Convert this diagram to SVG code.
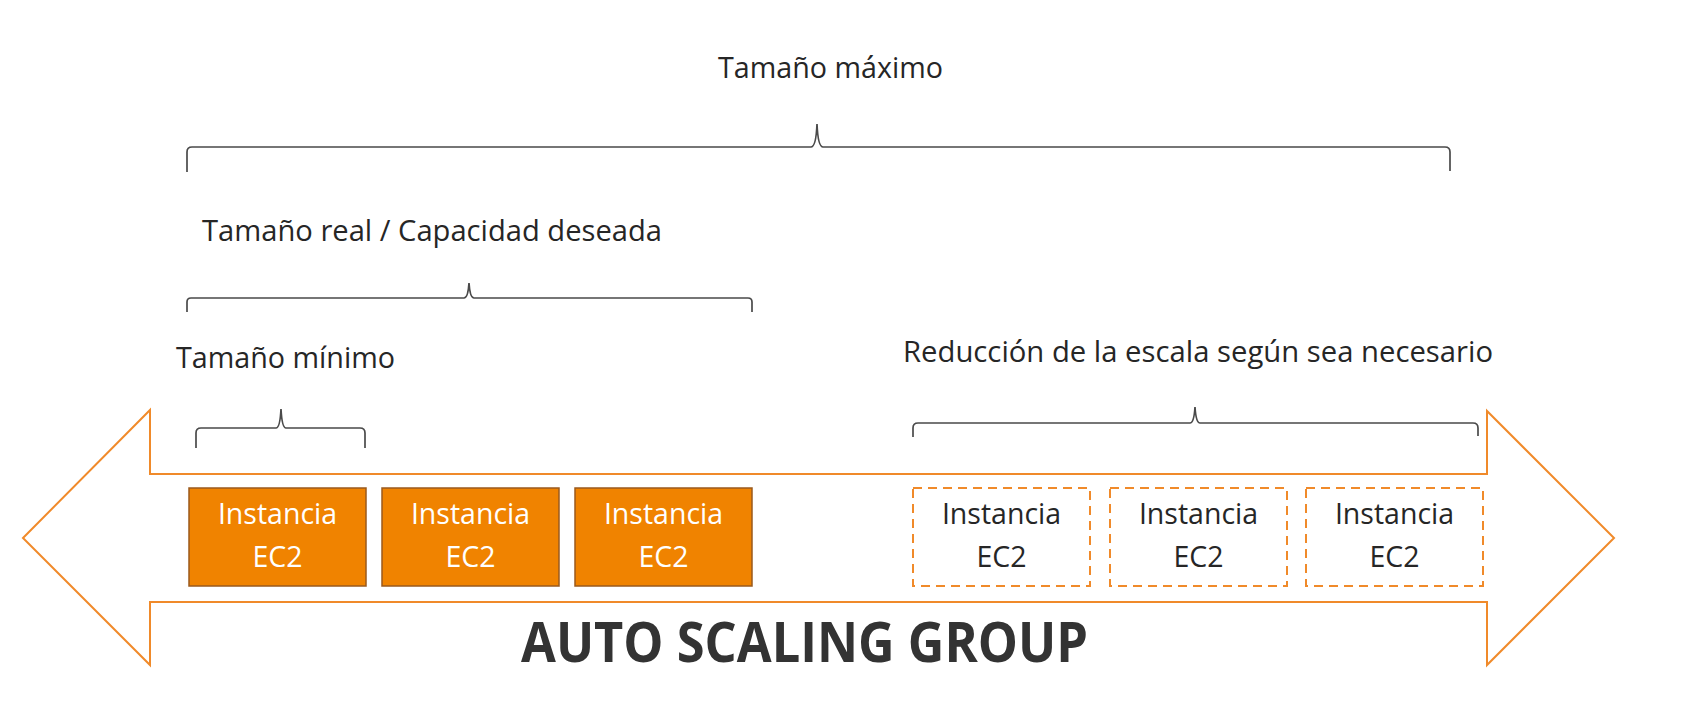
<svg xmlns="http://www.w3.org/2000/svg" width="1693" height="721" viewBox="0 0 1693 721">
<style>
.lbl{font-family:"Open Sans","Noto Sans",sans-serif;font-size:29px;fill:#262626}
.brace{fill:none;stroke:#4a4a4a;stroke-width:1.7}
.inst{stroke:#9a5a1c;stroke-width:1.5;fill:#F08300}
.dash{fill:#fff;stroke:#F08A2A;stroke-width:2;stroke-dasharray:9 6}
.itxt{font-family:"Open Sans","Noto Sans",sans-serif;font-size:28.5px;text-anchor:middle}
.w{fill:#fff}.d{fill:#262626}
.title{font-family:"Open Sans","Noto Sans",sans-serif;font-weight:bold;font-size:55px;fill:#333}
</style>
<rect width="1693" height="721" fill="#fff"/>
<g id="asg-arrow">
<path d="M23,538 L150,410 L150,474 L1487,474 L1487,411 L1614,538 L1487,665 L1487,602 L150,602 L150,665 Z" fill="#fff" stroke="#F08A2A" stroke-width="2"/>
<text class="title" x="521" y="662" textLength="567" lengthAdjust="spacingAndGlyphs">AUTO SCALING GROUP</text>
</g>
<g id="connectors">
<path class="brace" d="M187,172 L187,152 Q187,147 192,147 L811,147 Q816,147 817,124 Q818,147 823,147 L1445,147 Q1450,147 1450,152 L1450,171"/>
<path class="brace" d="M187,312 L187,302 Q187,298 191,298 L464,298 Q468,298 469,283 Q470,298 474,298 L748,298 Q752,298 752,302 L752,312"/>
<path class="brace" d="M196,448 L196,433 Q196,428 201,428 L276,428 Q280,428 281,409 Q282,428 286,428 L360,428 Q365,428 365,433 L365,448"/>
<path class="brace" d="M913,437 L913,428 Q913,423 918,423 L1190,423 Q1194,423 1195,407 Q1196,423 1200,423 L1473,423 Q1478,423 1478,428 L1478,436"/>
</g>
<g id="label-max"><text class="lbl" x="718" y="78" textLength="225" lengthAdjust="spacingAndGlyphs">Tamaño máximo</text></g>
<g id="label-desired"><text class="lbl" x="202" y="241" textLength="460" lengthAdjust="spacingAndGlyphs">Tamaño real / Capacidad deseada</text></g>
<g id="label-min"><text class="lbl" x="176" y="368" textLength="219" lengthAdjust="spacingAndGlyphs">Tamaño mínimo</text></g>
<g id="label-scale"><text class="lbl" x="903" y="362" textLength="590" lengthAdjust="spacingAndGlyphs">Reducción de la escala según sea necesario</text></g>
<g id="ec2-1"><rect class="inst" x="189" y="488" width="177" height="98"/><text class="itxt w" x="277.5" y="524">Instancia</text><text class="itxt w" x="277.5" y="567">EC2</text></g>
<g id="ec2-2"><rect class="inst" x="382" y="488" width="177" height="98"/><text class="itxt w" x="470.5" y="524">Instancia</text><text class="itxt w" x="470.5" y="567">EC2</text></g>
<g id="ec2-3"><rect class="inst" x="575" y="488" width="177" height="98"/><text class="itxt w" x="663.5" y="524">Instancia</text><text class="itxt w" x="663.5" y="567">EC2</text></g>
<g id="ec2-4"><rect class="dash" x="913" y="488" width="177" height="98"/><text class="itxt d" x="1001.5" y="524">Instancia</text><text class="itxt d" x="1001.5" y="567">EC2</text></g>
<g id="ec2-5"><rect class="dash" x="1110" y="488" width="177" height="98"/><text class="itxt d" x="1198.5" y="524">Instancia</text><text class="itxt d" x="1198.5" y="567">EC2</text></g>
<g id="ec2-6"><rect class="dash" x="1306" y="488" width="177" height="98"/><text class="itxt d" x="1394.5" y="524">Instancia</text><text class="itxt d" x="1394.5" y="567">EC2</text></g>
</svg>
